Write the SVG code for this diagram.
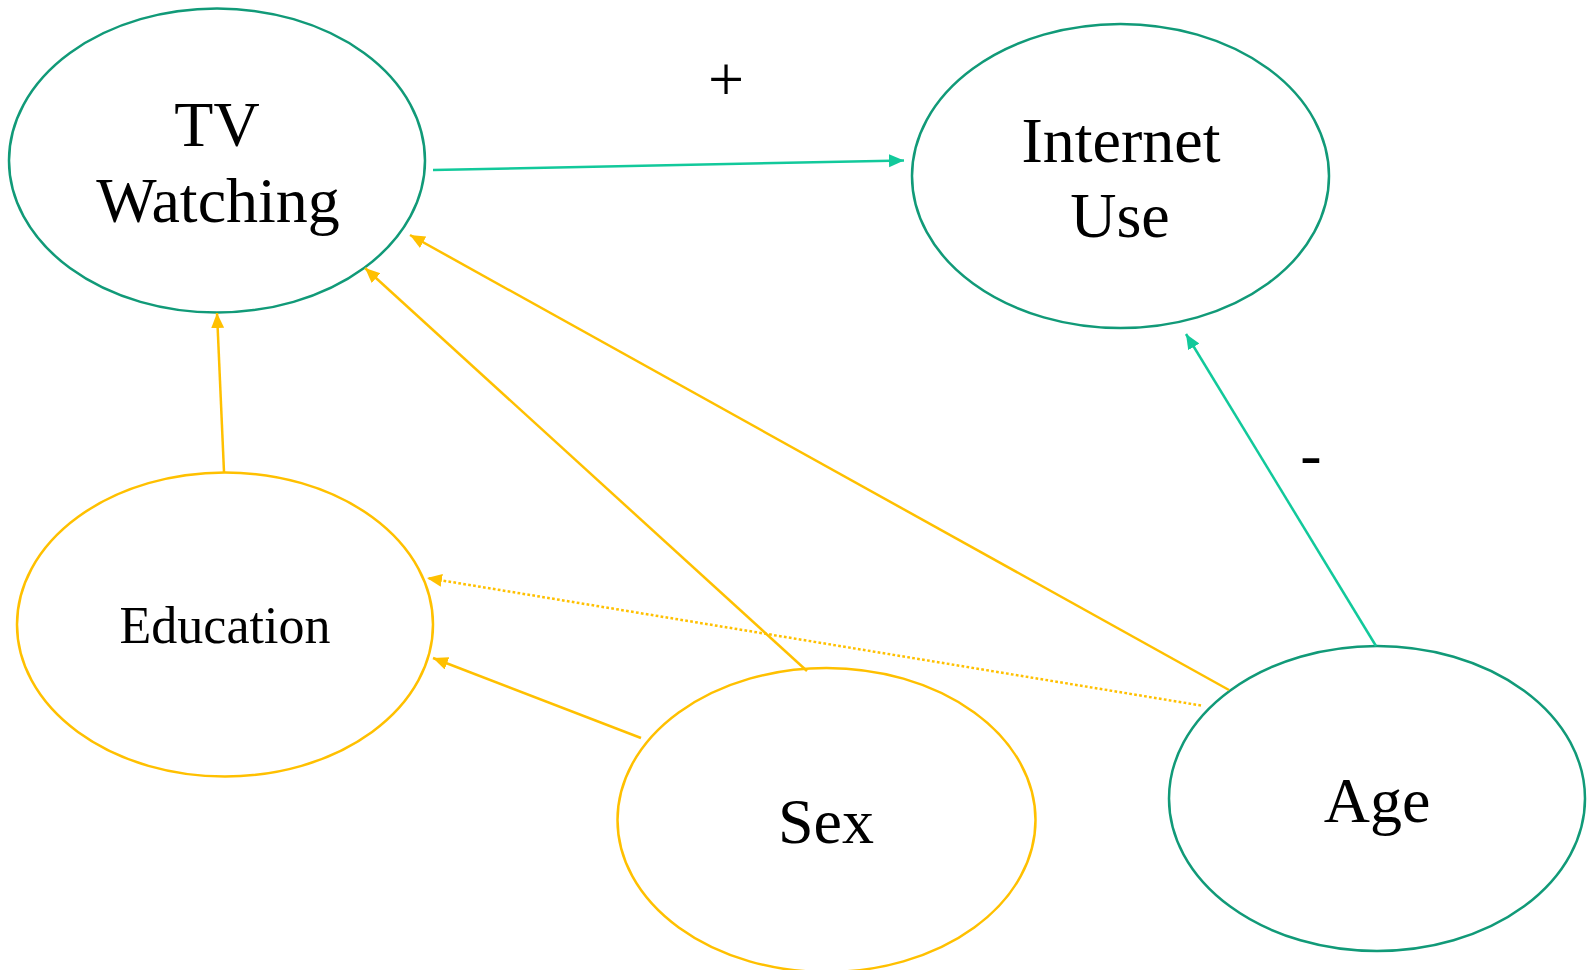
<svg xmlns="http://www.w3.org/2000/svg" width="1595" height="970" viewBox="0 0 1595 970">
<style>
.n{fill:#fff;stroke-width:2.5}
.g{stroke:#119A78}
.y{stroke:#FFC000}
.t{font-family:"Liberation Serif","Times New Roman",serif;fill:#000;text-anchor:middle}
.c{fill:none;stroke-width:2.5}
.cg{stroke:#12C99B}
.cy{stroke:#FFC000}
</style>
<defs>
<marker id="ag" markerUnits="userSpaceOnUse" markerWidth="16" markerHeight="14" refX="15" refY="6.5" orient="auto"><path d="M0,0 L15,6.5 L0,13 z" fill="#12C99B"/></marker>
<marker id="ay" markerUnits="userSpaceOnUse" markerWidth="16" markerHeight="14" refX="15" refY="6.5" orient="auto"><path d="M0,0 L15,6.5 L0,13 z" fill="#FFC000"/></marker>
</defs>
<rect width="1595" height="970" fill="#fff"/>
<g id="tv">
<ellipse class="n g" cx="217" cy="160.5" rx="208" ry="152"/>
<text class="t" x="217" y="146" font-size="64">TV</text>
<text class="t" x="218" y="222" font-size="64">Watching</text>
</g>
<g id="internet">
<ellipse class="n g" cx="1120.5" cy="176" rx="208.5" ry="152"/>
<text class="t" x="1121" y="162" font-size="64">Internet</text>
<text class="t" x="1120" y="237" font-size="64">Use</text>
</g>
<g id="education">
<ellipse class="n y" cx="225" cy="624.5" rx="208" ry="152"/>
<text class="t" x="225" y="643" font-size="52">Education</text>
</g>
<g id="sex">
<ellipse class="n y" cx="826.5" cy="820" rx="209" ry="152"/>
<text class="t" x="826" y="843" font-size="64">Sex</text>
</g>
<g id="age">
<ellipse class="n g" cx="1377" cy="798.5" rx="208" ry="152.5"/>
<text class="t" x="1377" y="822" font-size="64">Age</text>
</g>
<g id="connectors">
<line class="c cg" x1="433" y1="170" x2="904" y2="160.5" marker-end="url(#ag)"/>
<line class="c cy" x1="224" y1="472" x2="217" y2="313" marker-end="url(#ay)"/>
<line class="c cy" x1="807" y1="671" x2="365" y2="268" marker-end="url(#ay)"/>
<line class="c cy" x1="1229" y1="690" x2="410" y2="235" marker-end="url(#ay)"/>
<line class="c cy" x1="1201" y1="705.5" x2="427" y2="578" stroke-dasharray="2.7,2.3" marker-end="url(#ay)"/>
<line class="c cy" x1="641" y1="738" x2="433" y2="658" marker-end="url(#ay)"/>
<line class="c cg" x1="1376" y1="646" x2="1186" y2="334" marker-end="url(#ag)"/>
</g>
<text class="t" x="726" y="101" font-size="64">+</text>
<text class="t" x="1311" y="476" font-size="64">-</text>
</svg>
